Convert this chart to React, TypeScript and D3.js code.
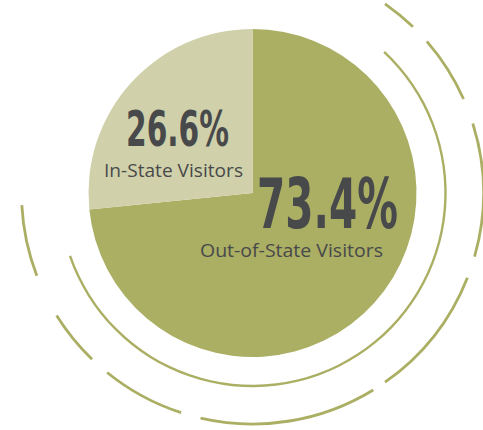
import React from "react";
import * as d3 from "d3";

const categories = ["Out-of-State Visitors", "In-State Visitors"];
const values = [73.4, 26.6];
const valueLabels = ["73.4%", "26.6%"];
const colors = ["#abaf63", "#d0d1aa"];

// decorative ring segments (degrees clockwise from 12 o'clock)
const innerRing = [[43, 251]];
const outerRing = [
  [35, 44],
  [49, 66],
  [72.5, 106],
  [111.5, 145],
  [148.5, 193],
  [198, 219],
  [224, 238],
  [249, 267],
];

const W = 483;
const H = 430;
const cx = 252.5;
const cy = 193;
const R = 164;
const rInner = 193;
const rOuter = 231;

export default function App() {
  const pie = d3.pie<number>().sort(null).value((d) => d);
  const arcs = pie(values);
  const arcGen = d3.arc<d3.PieArcDatum<number>>().innerRadius(0).outerRadius(R);
  const rad = (d: number) => (d * Math.PI) / 180;
  const ring = (r: number, w: number, a: number[]) =>
    d3.arc()({
      innerRadius: r - w / 2,
      outerRadius: r + w / 2,
      startAngle: rad(a[0]),
      endAngle: rad(a[1]),
    } as any) as string;

  const bigFont = "'Liberation Sans Narrow', 'DejaVu Sans Condensed', 'Roboto', sans-serif";
  const smallFont = "'Open Sans', 'Lato', sans-serif";
  const textColor = "#48494b";

  return (
    <svg
      width={W}
      height={H}
      style={{ position: "absolute", left: 0, top: 0, display: "block", background: "#fff" }}
    >
      <g transform={`translate(${cx},${cy})`}>
        {arcs.map((a, i) => (
          <path key={categories[i]} d={arcGen(a) as string} fill={colors[i]} />
        ))}
        {innerRing.map((a, i) => (
          <path key={"in" + i} d={ring(rInner, 2.4, a)} fill={colors[0]} />
        ))}
        {outerRing.map((a, i) => (
          <path key={"out" + i} d={ring(rOuter, 2.8, a)} fill={colors[0]} />
        ))}
      </g>
      {/* In-State */}
      <text
        x={126}
        y={146}
        fontFamily={bigFont}
        fontWeight="bold"
        fontSize={50}
        fill={textColor}
        textLength={103}
        lengthAdjust="spacingAndGlyphs"
      >
        {valueLabels[1]}
      </text>
      <text
        x={104}
        y={177}
        fontFamily={smallFont}
        fontWeight={500}
        fontSize={18.5}
        fill={textColor}
        textLength={139}
        lengthAdjust="spacingAndGlyphs"
      >
        {categories[1]}
      </text>
      {/* Out-of-State */}
      <text
        x={257}
        y={228}
        fontFamily={bigFont}
        fontWeight="bold"
        fontSize={69}
        fill={textColor}
        textLength={141}
        lengthAdjust="spacingAndGlyphs"
      >
        {valueLabels[0]}
      </text>
      <text
        x={200}
        y={257}
        fontFamily={smallFont}
        fontWeight={500}
        fontSize={18}
        fill={textColor}
        textLength={183}
        lengthAdjust="spacingAndGlyphs"
      >
        {categories[0]}
      </text>
    </svg>
  );
}
